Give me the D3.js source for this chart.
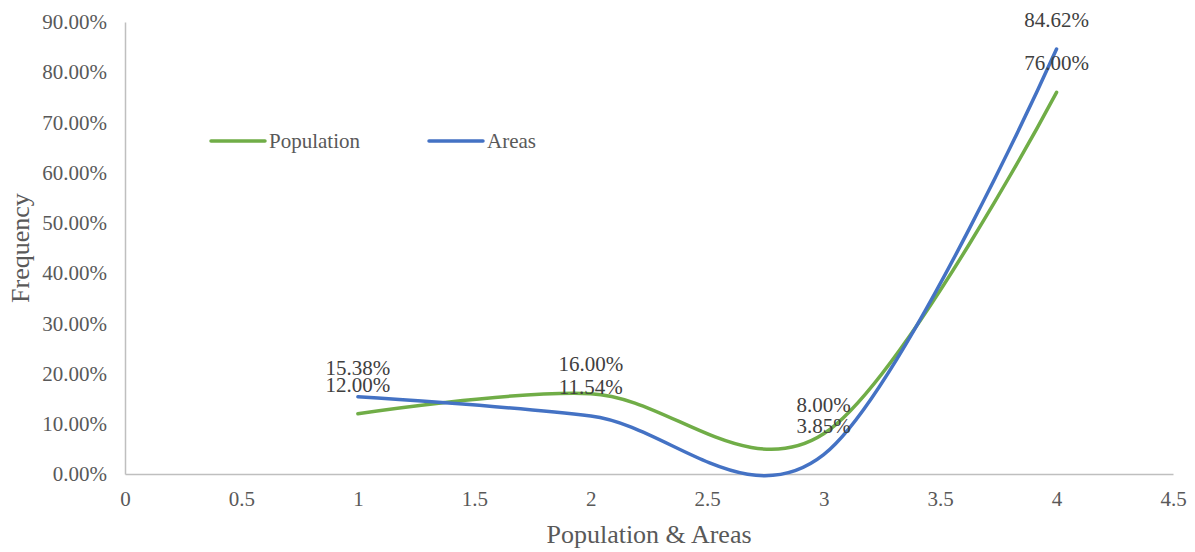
<!DOCTYPE html>
<html>
<head>
<meta charset="utf-8">
<script src="https://cdn.jsdelivr.net/npm/d3@7"></script>
<style>
  html, body { margin: 0; padding: 0; background: #fff; }
  svg { display: block; font-family: "Liberation Serif", "Times New Roman", serif; }
</style>
</head>
<body>
<svg id="chart" width="1195" height="552"></svg>
<script>
// Frequency share by category
const categories = [1, 2, 3, 4];
const population = [0.12, 0.16, 0.08, 0.76];
const areas = [0.1538, 0.1154, 0.0385, 0.8462];
const seriesNames = ["Population", "Areas"];
const xTicks = [0, 0.5, 1, 1.5, 2, 2.5, 3, 3.5, 4, 4.5];
const yTicks = [0, 0.1, 0.2, 0.3, 0.4, 0.5, 0.6, 0.7, 0.8, 0.9];

const colors = { Population: "#70AD47", Areas: "#4472C4" };

const svg = d3.select("#chart");
const plotLeft = 125, plotRight = 1173, plotTop = 22, plotBottom = 474;

const x = d3.scaleLinear().domain([0, 4.5]).range([plotLeft, plotRight]);
const y = d3.scaleLinear().domain([0, 0.9]).range([plotBottom, plotTop]);

// Axes
const xAxis = svg.append("g")
  .attr("transform", `translate(0,${plotBottom})`)
  .call(d3.axisBottom(x).tickValues(xTicks).tickSize(0).tickPadding(17)
    .tickFormat(d => d3.format("")(d)));
xAxis.select(".domain").attr("stroke", "#bfbfbf").attr("stroke-width", 1.5);
xAxis.selectAll("text").attr("fill", "#595959").style("font-size", "21px")
  .style("font-family", "Liberation Serif, serif");

const yAxis = svg.append("g")
  .attr("transform", `translate(${plotLeft},0)`)
  .call(d3.axisLeft(y).tickValues(yTicks).tickSize(0).tickPadding(18)
    .tickFormat(d3.format(".2%")));
yAxis.select(".domain").attr("stroke", "#bfbfbf").attr("stroke-width", 1.5);
yAxis.selectAll("text").attr("fill", "#595959").style("font-size", "21px")
  .style("font-family", "Liberation Serif, serif");

// Axis titles
svg.append("text")
  .attr("x", (plotLeft + plotRight) / 2).attr("y", 543)
  .attr("text-anchor", "middle")
  .attr("fill", "#595959").style("font-size", "26px")
  .text("Population & Areas");

svg.append("text")
  .attr("transform", `translate(29,${(plotTop + plotBottom) / 2}) rotate(-90)`)
  .attr("text-anchor", "middle")
  .attr("fill", "#595959").style("font-size", "26px")
  .text("Frequency");

// Smoothed series lines
const line = d3.line()
  .x(d => x(d[0]))
  .y(d => y(d[1]))
  .curve(d3.curveCatmullRom.alpha(0));

const series = [
  { name: "Population", values: population },
  { name: "Areas", values: areas }
];

series.forEach(s => {
  const pts = categories.map((c, i) => [c, s.values[i]]);
  svg.append("path")
    .datum(pts)
    .attr("fill", "none")
    .attr("stroke", colors[s.name])
    .attr("stroke-width", 3.5)
    .attr("stroke-linecap", "round")
    .attr("d", line);
});

// Data labels above each point
series.forEach(s => {
  svg.append("g").selectAll("text")
    .data(categories.map((c, i) => [c, s.values[i]]))
    .join("text")
    .attr("x", d => x(d[0]))
    .attr("y", d => y(d[1]) - 29.5)
    .attr("dy", "0.35em")
    .attr("text-anchor", "middle")
    .attr("fill", "#404040")
    .style("font-size", "21px")
    .text(d => d3.format(".2%")(d[1]));
});

// Legend
const legend = svg.append("g");
const legendItems = [
  { name: seriesNames[0], x0: 211 },
  { name: seriesNames[1], x0: 429 }
];
legendItems.forEach(it => {
  legend.append("line")
    .attr("x1", it.x0).attr("x2", it.x0 + 54)
    .attr("y1", 141).attr("y2", 141)
    .attr("stroke", colors[it.name])
    .attr("stroke-width", 3.5)
    .attr("stroke-linecap", "round");
  legend.append("text")
    .attr("x", it.x0 + 58).attr("y", 141)
    .attr("dy", "0.35em")
    .attr("fill", "#595959")
    .style("font-size", "21px")
    .text(it.name);
});
</script>
</body>
</html>
